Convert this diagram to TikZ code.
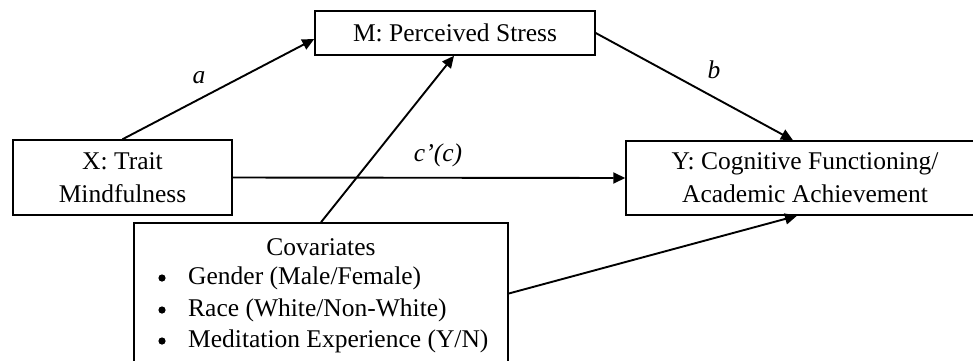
\documentclass[tikz,border=0pt]{standalone}
\usepackage{fontspec}
\setmainfont{Liberation Serif}
\usetikzlibrary{arrows.meta}
\begin{document}
\begin{tikzpicture}[x=1pt,y=-1pt,
  box/.style={draw=black,line width=1.5pt,rectangle,inner sep=0pt,align=center,font=\fontsize{25.5}{33}\selectfont},
  txt/.style={inner sep=0pt,font=\fontsize{25.5}{33}\selectfont},
  lbl/.style={inner sep=0pt,font=\fontsize{25.5}{33}\selectfont\itshape},
  arr/.style={line width=1.9pt,-{Triangle[length=12pt,width=11pt]}}]
\clip (0,0) rectangle (973,360);
\fill[white] (0,0) rectangle (973,360);
\node[box,minimum width=280pt,minimum height=44pt] (M) at (455,33) {M: Perceived Stress};
\node[box,minimum width=219pt,minimum height=75pt] (X) at (122.5,177.5) {X: Trait\\Mindfulness};
\node[box,minimum width=358pt,minimum height=74pt] (Y) at (805,178) {Y: Cognitive Functioning/\\Academic Achievement};
\node[box,minimum width=374pt,minimum height=141pt] (C) at (321,293.5) {};
\node[txt] (ct) at (321,247) {Covariates};
\node[txt,anchor=west] (c1) at (188,278) {Gender (Male/Female)};
\node[txt,anchor=west] (c2) at (188,310) {Race (White/Non-White)};
\node[txt,anchor=west] (c3) at (188,341) {Meditation Experience (Y/N)};
\fill (162,278) circle (3.6pt);
\fill (162,310) circle (3.6pt);
\fill (162,341) circle (3.6pt);
\draw[arr] (X.north) -- ([yshift=-6pt]M.west);
\draw[arr] (M.east) -- ([xshift=-12pt]Y.north);
\draw[arr] (X.east) -- (Y.west);
\draw[arr] (C.north) -- ([xshift=-1pt]M.south);
\draw[arr] (C.east) -- ([xshift=-8pt]Y.south);
\node[lbl] (la) at (199,78) {a};
\node[lbl] (lb) at (714,70) {b};
\node[lbl] (lc) at (438,155) {c’(c)};
\end{tikzpicture}
\end{document}
